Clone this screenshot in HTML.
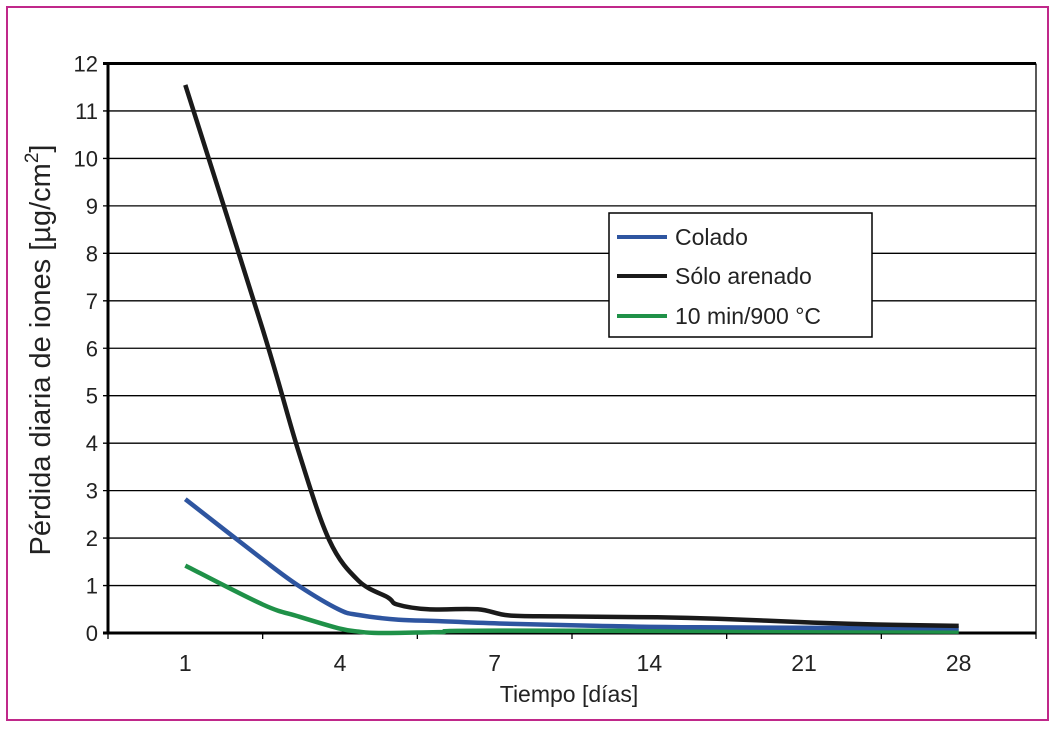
<!DOCTYPE html>
<html><head><meta charset="utf-8"><style>
body{margin:0;background:#fff;}
svg{display:block;font-family:"Liberation Sans",sans-serif;}
</style></head><body>
<svg id="chart" width="1062" height="737" viewBox="0 0 1062 737">
<rect x="7" y="7" width="1041" height="713" fill="#fff" stroke="#c0288a" stroke-width="2"/>
<g id="grid"></g><g id="axes"></g><g id="series"></g>
<text transform="translate(50,350) rotate(-90)" text-anchor="middle" font-size="29" fill="#222">Pérdida diaria de iones [µg/cm<tspan font-size="19" dy="-12">2</tspan><tspan dy="12">]</tspan></text>
<text x="569" y="702" text-anchor="middle" font-size="23" fill="#222">Tiempo [días]</text>
<g>
<rect x="609" y="213" width="263" height="124" fill="#fff" stroke="#000" stroke-width="1.5"/>
<line x1="617" y1="237" x2="667" y2="237" stroke="#2e55a0" stroke-width="4"/>
<text x="675" y="245" font-size="23" fill="#222">Colado</text>
<line x1="617" y1="276" x2="667" y2="276" stroke="#1a1a1a" stroke-width="4"/>
<text x="675" y="284" font-size="23" fill="#222">Sólo arenado</text>
<line x1="617" y1="316" x2="667" y2="316" stroke="#1f9148" stroke-width="4"/>
<text x="675" y="324" font-size="23" fill="#222">10 min/900 °C</text>
</g>
</svg>
<script>
const categories=["1","4","7","14","21","28"];
const yTicks=[0,1,2,3,4,5,6,7,8,9,10,11,12];
const blackX=[0,0.5,0.73,0.93,1.12,1.31,1.37,1.57,1.89,2.09,2.41,3.05,3.44,4.06,4.47,5];
const blackY=[11.55,6.4,3.85,1.96,1.1,0.75,0.6,0.5,0.5,0.37,0.35,0.33,0.3,0.22,0.18,0.15];
const blueX=[0,0.5,0.73,0.99,1.12,1.38,1.64,2.03,2.67,3.32,5];
const blueY=[2.82,1.55,1.0,0.5,0.38,0.28,0.25,0.2,0.15,0.12,0.1];
const greenX=[0,0.5,0.73,0.99,1.12,1.25,1.64,2.03,5];
const greenY=[1.42,0.6,0.35,0.1,0.03,0,0.02,0.05,0.03];
const L=108,R=1036,T=63.5,B=633,NS="http://www.w3.org/2000/svg";
const cw=(R-L)/categories.length;
const xs=i=>L+cw*(i+0.5);
const ys=v=>B-(B-T)*v/12;
function mk(tag,attrs,parent){const e=document.createElementNS(NS,tag);for(const k in attrs)e.setAttribute(k,attrs[k]);document.getElementById(parent).appendChild(e);return e;}
yTicks.forEach(v=>{
  const g=mk('line',{x1:L-5,x2:R,y1:ys(v),y2:ys(v),stroke:'#000','stroke-width':(v===0||v===12)?3:1.3},'grid');
  
  
  const t=mk('text',{x:L-10,y:ys(v)+8,'text-anchor':'end','font-size':22,fill:'#222'},'axes');
  t.textContent=v;
  
  
});
const ya=mk('line',{x1:L,x2:L,y1:T-1,y2:B+1,stroke:'#000','stroke-width':3},'axes');


const ra=mk('line',{x1:R,x2:R,y1:T,y2:B,stroke:'#000','stroke-width':1.3},'axes');


for(let i=0;i<=categories.length;i++){
  const tk=mk('line',{x1:L+cw*i,x2:L+cw*i,y1:B,y2:B+6,stroke:'#000','stroke-width':1.3},'axes');
  
  
}
categories.forEach((c,i)=>{
  const t=mk('text',{x:xs(i),y:B+38,'text-anchor':'middle','font-size':23,fill:'#222'},'axes');
  t.textContent=c;
  
  
});
function line(X,Y,color,name){
  const P=X.map((x,i)=>[xs(x),ys(Y[i])]);
  let d='M'+P[0][0].toFixed(1)+' '+P[0][1].toFixed(1);
  for(let i=0;i<P.length-1;i++){
    const p0=P[Math.max(i-1,0)],p1=P[i],p2=P[i+1],p3=P[Math.min(i+2,P.length-1)];
    const c1=[p1[0]+(p2[0]-p0[0])/6,p1[1]+(p2[1]-p0[1])/6];
    const c2=[p2[0]-(p3[0]-p1[0])/6,p2[1]-(p3[1]-p1[1])/6];
    d+=' C'+c1[0].toFixed(1)+' '+c1[1].toFixed(1)+' '+c2[0].toFixed(1)+' '+c2[1].toFixed(1)+' '+p2[0].toFixed(1)+' '+p2[1].toFixed(1);
  }
  const p=mk('path',{d:d,fill:'none',stroke:color,'stroke-width':4.5,'stroke-linejoin':'round'},'series');
  
  
}
line(greenX,greenY,'#1f9148','series-10min-900c');
line(blueX,blueY,'#2e55a0','series-colado');
line(blackX,blackY,'#1a1a1a','series-solo-arenado');
</script>
</body></html>
